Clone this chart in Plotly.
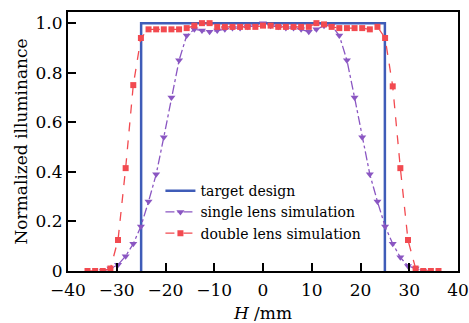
import numpy as np
import plotly.graph_objects as go

# positions H (mm): 47 samples from -36 to 36
H = np.linspace(-36, 36, 47)

double_lens = [0.0, 0.0, 0.0, 0.01, 0.125, 0.415, 0.75, 0.94, 0.975, 0.975,
               0.975, 0.975, 0.975, 0.98, 0.99, 1.0, 1.0, 0.985, 0.985, 0.985,
               0.985, 0.985, 0.985, 0.99, 0.99, 0.985, 0.985, 0.985, 0.985, 0.985,
               1.0, 0.995, 0.985, 0.98, 0.98, 0.98, 0.98, 0.975, 0.985, 0.94,
               0.745, 0.415, 0.125, 0.01, 0.0, 0.0, 0.0]

single_H = H[2:45]
single_lens = [0.0, 0.01, 0.025, 0.06, 0.11, 0.18, 0.28, 0.39, 0.54, 0.70,
               0.85, 0.95, 0.975, 0.97, 0.965, 0.97, 0.975, 0.98, 0.98, 0.985,
               0.99, 1.0, 0.99, 0.985, 0.98, 0.98, 0.975, 0.965, 0.975, 0.99,
               0.99, 0.95, 0.85, 0.70, 0.54, 0.39, 0.28, 0.18, 0.11, 0.055,
               0.02, 0.01, 0.0]

target_H = [-25, -25, 25, 25]
target_val = [0, 1, 1, 0]

xticks = [-40, -30, -20, -10, 0, 10, 20, 30, 40]
yticks = [0, 0.2, 0.4, 0.6, 0.8, 1.0]
yticklabels = ["0", "0.2", "0.4", "0.6", "0.8", "1.0"]

fig = go.Figure()
fig.add_trace(go.Scatter(x=target_H, y=target_val, mode="lines",
                         line=dict(color="#3f5cb8", width=2.5),
                         name="target design"))
fig.add_trace(go.Scatter(x=single_H, y=single_lens, mode="lines+markers",
                         line=dict(color="#8a56c2", width=1.3, dash="dashdot"),
                         marker=dict(symbol="triangle-down", size=7, color="#8a56c2"),
                         name="single lens simulation"))
fig.add_trace(go.Scatter(x=H, y=double_lens, mode="lines+markers",
                         line=dict(color="#f24a50", width=1.3, dash="dash"),
                         marker=dict(symbol="square", size=6, color="#f24a50"),
                         name="double lens simulation"))

font_family = "DejaVu Serif"
fig.update_layout(
    width=469, height=323,
    margin=dict(l=68, r=11, t=12, b=52),
    plot_bgcolor="white", paper_bgcolor="white",
    font=dict(family=font_family, size=16, color="black"),
    showlegend=True,
    legend=dict(x=0.237, y=0.37, xanchor="left", yanchor="top",
                bgcolor="rgba(0,0,0,0)", font=dict(size=14, family=font_family),
                itemwidth=30, tracegroupgap=0),
    xaxis=dict(range=[-40, 40], tickvals=xticks, ticks="inside", ticklen=8,
               tickwidth=2, tickcolor="black", showline=True, linewidth=2,
               linecolor="black", mirror=True, showgrid=False, zeroline=False,
               automargin=False, tickfont=dict(size=17), ticklabelstandoff=3,
               title=dict(text="<i>H</i> /mm", standoff=8, font=dict(size=17))),
    yaxis=dict(range=[0, 1.045], tickvals=yticks, ticktext=yticklabels,
               ticks="inside", ticklen=8, tickwidth=2, tickcolor="black",
               showline=True, linewidth=2, linecolor="black", mirror=True,
               showgrid=False, zeroline=False, automargin=False,
               tickfont=dict(size=17),
               title=dict(text="Normalized illuminance", standoff=4, font=dict(size=17))),
)
fig.write_html("out.html")
